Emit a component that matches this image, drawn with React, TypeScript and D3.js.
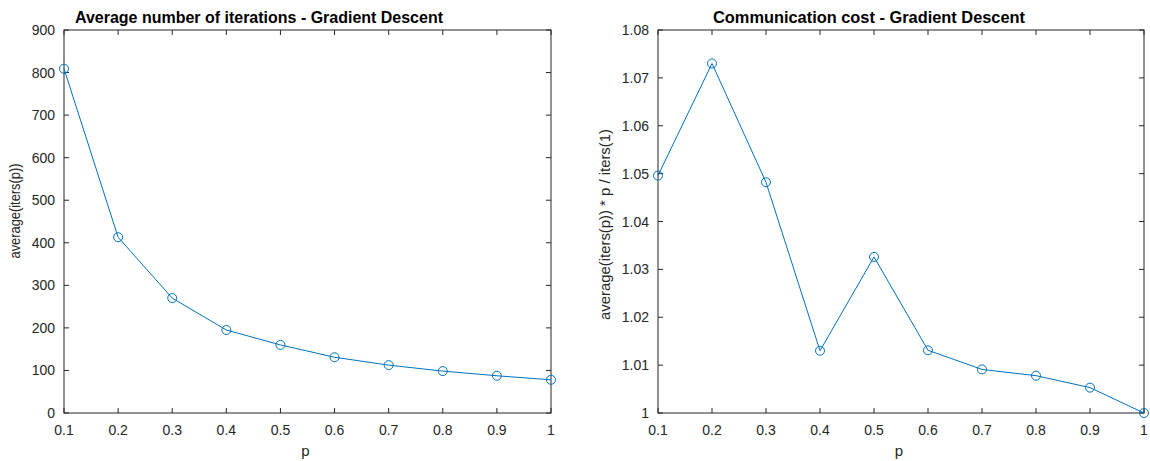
import React from "react";
import * as d3 from "d3";

const pValues = [0.1, 0.2, 0.3, 0.4, 0.5, 0.6, 0.7, 0.8, 0.9, 1.0];
const avgIters = [809, 413, 270, 195, 160, 131, 112.5, 98.5, 87.5, 78];
const commCost = [1.0496, 1.073, 1.0482, 1.013, 1.0326, 1.0131, 1.0091, 1.0078, 1.0053, 1.0];
const xTicks = [0.1, 0.2, 0.3, 0.4, 0.5, 0.6, 0.7, 0.8, 0.9, 1];
const leftYTicks = [0, 100, 200, 300, 400, 500, 600, 700, 800, 900];
const rightYTicks = [1, 1.01, 1.02, 1.03, 1.04, 1.05, 1.06, 1.07, 1.08];

const W = 1150;
const H = 461;
const FONT = "'Liberation Sans', Arial, Helvetica, sans-serif";
const BLUE = "#0072BD";
const AX = "#262626";

type PanelProps = {
  x0: number;
  x1: number;
  y0: number;
  y1: number;
  ys: number[];
  yDomain: [number, number];
  yTicks: number[];
  yFmt: (v: number) => string;
  title: string;
  titleX: number;
  titleLen: number;
  yLabel: string;
  yLabelX: number;
  yLabelY: number;
  yLabelLen: number;
};

function Panel(props: PanelProps) {
  const { x0, x1, y0, y1, ys, yDomain, yTicks, yFmt, title, titleX, titleLen, yLabel, yLabelX, yLabelY, yLabelLen } = props;
  const xs = d3.scaleLinear().domain([0.1, 1]).range([x0, x1]);
  const yScale = d3.scaleLinear().domain(yDomain).range([y1, y0]);
  const pts: [number, number][] = pValues.map((p, i) => [xs(p), yScale(ys[i])]);
  const line = d3.line()(pts) || "";
  const tl = 5;
  const xFmt = (v: number) => (v === 1 ? "1" : d3.format(".1f")(v));
  const cx = (x0 + x1) / 2;
  return (
    <g>
      {xTicks.map((t) => (
        <g key={"xt" + t}>
          <line x1={xs(t)} x2={xs(t)} y1={y1} y2={y1 - tl} stroke={AX} strokeWidth={1} />
          <line x1={xs(t)} x2={xs(t)} y1={y0} y2={y0 + tl} stroke={AX} strokeWidth={1} />
          <text x={xs(t)} y={y1 + 22} textAnchor="middle" fontSize={14} fill={AX} fontFamily={FONT}>
            {xFmt(t)}
          </text>
        </g>
      ))}
      {yTicks.map((t) => (
        <g key={"yt" + t}>
          <line x1={x0} x2={x0 + tl} y1={yScale(t)} y2={yScale(t)} stroke={AX} strokeWidth={1} />
          <line x1={x1} x2={x1 - tl} y1={yScale(t)} y2={yScale(t)} stroke={AX} strokeWidth={1} />
          <text x={x0 - 9} y={yScale(t) + 5} textAnchor="end" fontSize={14} fill={AX} fontFamily={FONT}>
            {yFmt(t)}
          </text>
        </g>
      ))}
      <rect x={x0} y={y0} width={x1 - x0} height={y1 - y0} fill="none" stroke={AX} strokeWidth={1} />
      <path d={line} fill="none" stroke={BLUE} strokeWidth={1} />
      {pts.map(([px, py], i) => (
        <circle key={"m" + i} cx={px} cy={py} r={4.5} fill="none" stroke={BLUE} strokeWidth={1} />
      ))}
      <text
        x={titleX}
        y={23}
        textAnchor="start"
        fontSize={17}
        fontWeight="bold"
        fill="#000"
        fontFamily={FONT}
        textLength={titleLen}
        lengthAdjust="spacingAndGlyphs"
      >
        {title}
      </text>
      <text x={cx - 2} y={y1 + 43} textAnchor="middle" fontSize={15} fill={AX} fontFamily={FONT}>
        p
      </text>
      <text
        transform={`translate(${yLabelX},${yLabelY}) rotate(-90)`}
        textAnchor="middle"
        fontSize={14}
        fill={AX}
        fontFamily={FONT}
        textLength={yLabelLen}
        lengthAdjust="spacingAndGlyphs"
      >
        {yLabel}
      </text>
    </g>
  );
}

export default function App() {
  return (
    <svg width={W} height={H} style={{ position: "absolute", left: 0, top: 0, background: "#fff" }}>
      <rect x={0} y={0} width={W} height={H} fill="#fff" />
      <Panel
        x0={64}
        x1={551}
        y0={30}
        y1={413}
        ys={avgIters}
        yDomain={[0, 900]}
        yTicks={leftYTicks}
        yFmt={(v) => String(v)}
        title="Average number of iterations - Gradient Descent"
        titleX={75}
        titleLen={368}
        yLabel="average(iters(p))"
        yLabelX={20}
        yLabelY={211}
        yLabelLen={95}
      />
      <Panel
        x0={658}
        x1={1144}
        y0={30}
        y1={413}
        ys={commCost}
        yDomain={[1, 1.08]}
        yTicks={rightYTicks}
        yFmt={(v) => (v === 1 ? "1" : d3.format(".2f")(v))}
        title="Communication cost - Gradient Descent"
        titleX={713}
        titleLen={312}
        yLabel="average(iters(p)) * p / iters(1)"
        yLabelX={610}
        yLabelY={224.5}
        yLabelLen={191}
      />
    </svg>
  );
}
